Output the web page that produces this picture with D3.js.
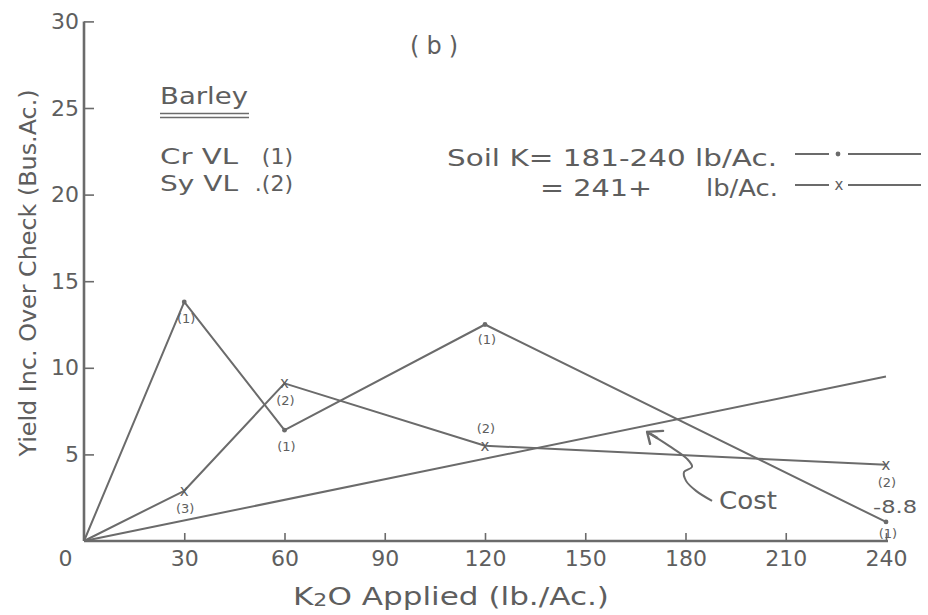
<!DOCTYPE html>
<html>
<head>
<meta charset="utf-8">
<script src="https://cdn.jsdelivr.net/npm/d3@7"></script>
<style>
  body { margin: 0; background: #fff; }
  svg { display: block; }
  text { font-family: "DejaVu Sans", sans-serif; fill: #5e5e5e; }
</style>
</head>
<body>
<svg id="chart" width="928" height="615"></svg>
<script>
// K2O rates (lb/Ac.) at which the plots were sampled
const rates = [0, 30, 60, 120, 240];

// Cr VL, soil K = 181-240 lb/Ac. (dot marker)
const crValues = [0, 13.8, 6.4, 12.5, 1.1];
const crLabels = [null, "(1)", "(1)", "(1)", "(1)"];

// Sy VL, soil K = 241+ lb/Ac. (x marker)
const syValues = [0, 2.9, 9.1, 5.5, 4.4];
const syLabels = [null, "(3)", "(2)", "(2)", "(2)"];

// Cost of the potash, straight line from the origin
const costRates = [0, 240];
const costValues = [0, 9.5];

// Axis ticks
const xTicks = [0, 30, 60, 90, 120, 150, 180, 210, 240];
const yTicks = [5, 10, 15, 20, 25, 30];

// label placement (pixels from the marker)
const crLabelDy = [0, 21, 21, 19, 16];
const syLabelDy = [0, 22, 22, -13, 22];

const ink = "#6b6b6b";
const svg = d3.select("#chart");

const x = d3.scaleLinear().domain([0, 240]).range([84, 886]);
const y = d3.scaleLinear().domain([0, 30]).range([541, 21.4]);

// ---- axes ----
const gx = svg.append("g").attr("transform", `translate(0,${y(0)})`)
  .call(d3.axisBottom(x).tickValues(xTicks).tickSizeInner(-8).tickSizeOuter(0).tickPadding(9));
gx.select(".domain").attr("stroke", ink).attr("stroke-width", 2.6).attr("d", `M${x(0)},0H${x(240) + 2}`);
gx.selectAll(".tick line").attr("stroke", ink).attr("stroke-width", 1.6)
  .filter(d => d === 0).remove();
gx.selectAll(".tick text").attr("font-size", 22).attr("fill", "#5e5e5e")
  .attr("dx", d => d === 0 ? -19 : 0);

const gy = svg.append("g").attr("transform", `translate(${x(0)},0)`)
  .call(d3.axisLeft(y).tickValues(yTicks).tickSizeInner(-10).tickSizeOuter(0).tickPadding(5));
gy.select(".domain").attr("stroke", ink).attr("stroke-width", 2.6).attr("d", `M0,${y(0)}V${y(30)}`);
gy.selectAll(".tick line").attr("stroke", ink).attr("stroke-width", 1.6);
gy.selectAll(".tick text").attr("font-size", 22).attr("fill", "#5e5e5e");

// axis titles
const xt = svg.append("text").attr("x", 293).attr("y", 605).attr("font-size", 24)
  .attr("textLength", 316).attr("lengthAdjust", "spacingAndGlyphs");
xt.append("tspan").text("K");
xt.append("tspan").attr("font-size", 17).attr("dy", 1).text("2");
xt.append("tspan").attr("dy", -1).text("O Applied (lb./Ac.)");

svg.append("text")
  .attr("transform", "translate(36,273) rotate(-90)")
  .attr("text-anchor", "middle").attr("font-size", 23)
  .attr("textLength", 367).attr("lengthAdjust", "spacingAndGlyphs")
  .text("Yield Inc. Over Check (Bus.Ac.)");

// ---- series ----
const line = d3.line().x(d => x(d[0])).y(d => y(d[1]));

const costPts = costRates.map((r, i) => [r, costValues[i]]);
const crPts = rates.map((r, i) => [r, crValues[i]]);
const syPts = rates.map((r, i) => [r, syValues[i]]);

[costPts, crPts, syPts].forEach(pts => {
  svg.append("path").datum(pts).attr("d", line)
    .attr("fill", "none").attr("stroke", ink).attr("stroke-width", 2)
    .attr("stroke-linejoin", "round");
});

// dot markers and labels for Cr VL
const crMarks = crPts.map((d, i) => ({ p: d, lab: crLabels[i], dy: crLabelDy[i] })).slice(1);
svg.selectAll(".crdot").data(crMarks).join("circle")
  .attr("cx", d => x(d.p[0])).attr("cy", d => y(d.p[1])).attr("r", 2.4).attr("fill", ink);
svg.selectAll(".crlab").data(crMarks).join("text")
  .attr("x", d => x(d.p[0]) + 2).attr("y", d => y(d.p[1]) + d.dy)
  .attr("text-anchor", "middle").attr("font-size", 13).text(d => d.lab);

// x markers and labels for Sy VL
const syMarks = syPts.map((d, i) => ({ p: d, lab: syLabels[i], dy: syLabelDy[i] })).slice(1);
svg.selectAll(".symark").data(syMarks).join("text")
  .attr("x", d => x(d.p[0])).attr("y", d => y(d.p[1]) + 5)
  .attr("text-anchor", "middle").attr("font-size", 15).text("x");
svg.selectAll(".sylab").data(syMarks).join("text")
  .attr("x", d => x(d.p[0]) + 1).attr("y", d => y(d.p[1]) + d.dy)
  .attr("text-anchor", "middle").attr("font-size", 13).text(d => d.lab);

// value note at the last Cr VL point
const lastCr = crPts[crPts.length - 1];
svg.append("text").attr("x", x(lastCr[0]) - 13).attr("y", y(lastCr[1]) - 9)
  .attr("font-size", 17).attr("textLength", 44).attr("lengthAdjust", "spacingAndGlyphs").text("-8.8");

// "Cost" note with a wavy arrow pointing at the cost line
const tip = [x(168.5), y(6.3)];
const arrowPts = [[65, 69], [49, 59], [39, 49], [37, 40], [45, 35], [40, 27], [22, 14], [0, 0]]
  .map(d => [tip[0] + d[0], tip[1] + d[1]]);
svg.append("path").attr("d", d3.line().curve(d3.curveCatmullRom)(arrowPts))
  .attr("fill", "none").attr("stroke", ink).attr("stroke-width", 2);
svg.append("path")
  .attr("d", `M${tip[0]},${tip[1]} l16,-1 M${tip[0]},${tip[1]} l3,12 M${tip[0]},${tip[1]} l10,6`)
  .attr("fill", "none").attr("stroke", ink).attr("stroke-width", 2.4).attr("stroke-linecap", "round");
svg.append("text").attr("x", tip[0] + 72).attr("y", tip[1] + 77).attr("font-size", 24)
  .attr("textLength", 58).attr("lengthAdjust", "spacingAndGlyphs").text("Cost");

// ---- titles and keys ----
svg.append("text").attr("x", 434).attr("y", 54).attr("text-anchor", "middle")
  .attr("font-size", 24).attr("textLength", 48).attr("lengthAdjust", "spacing").text("(b)");

svg.append("text").attr("x", 160).attr("y", 104).attr("font-size", 23)
  .attr("textLength", 88).attr("lengthAdjust", "spacingAndGlyphs").text("Barley");
svg.append("path").attr("d", "M160,113.5H249M160,117.5H249")
  .attr("stroke", ink).attr("stroke-width", 1.3);

const varieties = ["Cr VL", "Sy VL"];
const varietyCodes = ["(1)", ".(2)"];
varieties.forEach((v, i) => {
  const by = 164 + i * 27;
  svg.append("text").attr("x", 160).attr("y", by).attr("font-size", 22)
    .attr("textLength", 78).attr("lengthAdjust", "spacingAndGlyphs").text(v);
  svg.append("text").attr("x", 293).attr("y", by).attr("font-size", 22)
    .attr("text-anchor", "end").text(varietyCodes[i]);
});

// soil K key
svg.append("text").attr("x", 447).attr("y", 166).attr("font-size", 23)
  .attr("textLength", 330).attr("lengthAdjust", "spacingAndGlyphs").text("Soil K= 181-240 lb/Ac.");
svg.append("text").attr("x", 540).attr("y", 196).attr("font-size", 23)
  .attr("textLength", 112).attr("lengthAdjust", "spacingAndGlyphs").text("= 241+");
svg.append("text").attr("x", 706).attr("y", 196).attr("font-size", 23)
  .attr("textLength", 72).attr("lengthAdjust", "spacingAndGlyphs").text("lb/Ac.");

const keyRows = [{ mark: "dot", y: 154 }, { mark: "x", y: 185 }];
keyRows.forEach(k => {
  svg.append("path").attr("d", `M795,${k.y}H829M848,${k.y}H921`)
    .attr("stroke", ink).attr("stroke-width", 2);
  if (k.mark === "dot") {
    svg.append("circle").attr("cx", 838).attr("cy", k.y).attr("r", 2.4).attr("fill", ink);
  } else {
    svg.append("text").attr("x", 839).attr("y", k.y + 5).attr("text-anchor", "middle")
      .attr("font-size", 15).text("x");
  }
});
</script>
</body>
</html>
